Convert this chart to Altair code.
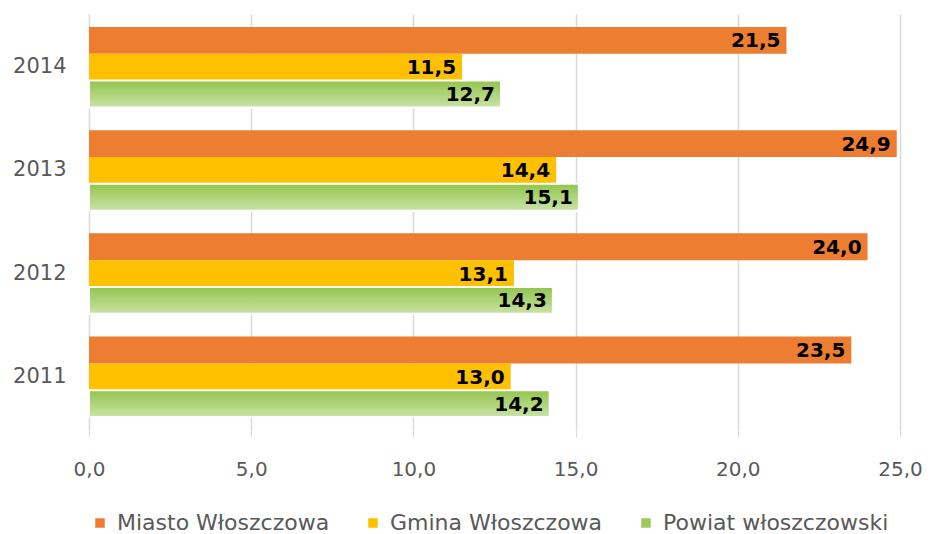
import altair as alt
import pandas as pd

years = ["2014", "2013", "2012", "2011"]
series = ["Miasto Włoszczowa", "Gmina Włoszczowa", "Powiat włoszczowski"]
miasto = [21.5, 24.9, 24.0, 23.5]
gmina = [11.5, 14.4, 13.1, 13.0]
powiat = [12.7, 15.1, 14.3, 14.2]
colors = ["#ED7D31", "#FFC000", "#9BCB5B"]

rows = []
for i, y in enumerate(years):
    for s, vals in zip(series, [miasto, gmina, powiat]):
        rows.append({"year": y, "series": s, "value": vals[i]})
df = pd.DataFrame(rows)

FONT = "DejaVu Sans"
GRAY = "#595959"

y_enc = alt.Y("year:N", sort=years, title=None,
              scale=alt.Scale(paddingInner=0.22, paddingOuter=0.125),
              axis=alt.Axis(ticks=False, domain=False, labelFontSize=21, labelColor=GRAY,
                            labelFont=FONT, labelPadding=23))
yoff = alt.YOffset("series:N", sort=series, scale=alt.Scale(domain=series))
x_enc = alt.X("value:Q", title=None,
              scale=alt.Scale(domain=[0, 25], nice=False),
              axis=alt.Axis(values=[0, 5, 10, 15, 20, 25], domain=False,
                            labelExpr="replace(format(datum.value, '.1f'), '.', ',')",
                            labelFontSize=20, labelColor=GRAY, labelFont=FONT,
                            labelFlush=False, labelOverlap=False,
                            labelPadding=22, tickColor="#D9D9D9", tickSize=7,
                            gridColor="#D9D9D9", gridWidth=1.5))

base = alt.Chart(df)

bars = base.transform_filter(
    alt.FieldOneOfPredicate(field="series", oneOf=series[:2])
).mark_bar().encode(
    y=y_enc, yOffset=yoff, x=x_enc,
    color=alt.Color("series:N", sort=series,
                    scale=alt.Scale(domain=series, range=colors),
                    legend=alt.Legend(title=None, orient="bottom", direction="horizontal",
                                      symbolType="square", symbolSize=90, labelLimit=0,
                                      labelFontSize=22, labelColor=GRAY, labelFont=FONT,
                                      labelOffset=6,
                                      columnPadding=32, symbolStrokeWidth=0, offset=33)),
)

grad = alt.Gradient(gradient="linear",
                    stops=[alt.GradientStop(color="#92C44C", offset=0),
                           alt.GradientStop(color="#C9E3A6", offset=1)],
                    x1=0, x2=0, y1=0, y2=1)

green = base.transform_filter(
    alt.FieldEqualPredicate(field="series", equal=series[2])
).mark_bar(stroke="white", strokeWidth=2).encode(
    y=y_enc, yOffset=yoff, x=x_enc,
    fill=alt.value(grad),
)

labels = base.transform_calculate(
    label="replace(format(datum.value, '.1f'), '.', ',')"
).mark_text(align="right", baseline="middle", dx=-6, dy=1, fontSize=20,
            fontWeight="bold", font=FONT, color="black").encode(
    y=y_enc, yOffset=yoff, x=x_enc, text="label:N",
)

chart = alt.layer(bars, green, labels).properties(
    width=811, height=416,
    padding={"left": 4, "top": 6, "right": 0, "bottom": 0},
).configure_view(stroke=None).configure_axis(gridColor="#D9D9D9")

chart.save("out.html", embed_options={"renderer": "svg", "actions": False})
